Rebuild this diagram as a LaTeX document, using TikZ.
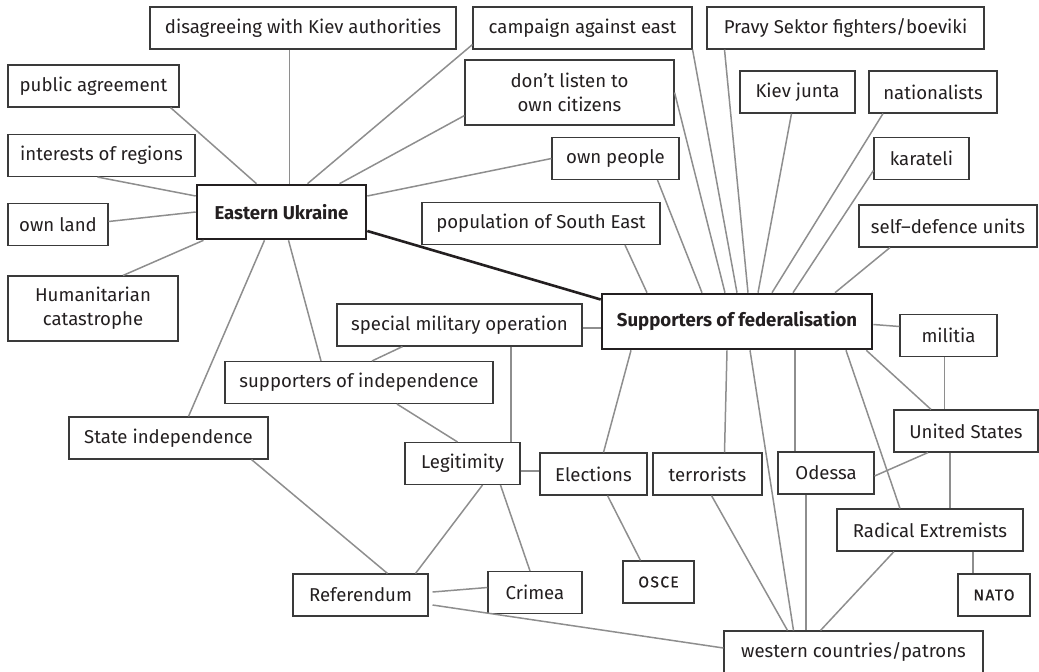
\documentclass[tikz,border=0pt]{standalone}
\usepackage{fontspec}
\setmainfont{Fira Sans}
\usepackage{tikz}
\definecolor{mapink}{HTML}{231F20}
\definecolor{mapedge}{HTML}{3A3A3A}
\definecolor{mapline}{HTML}{8E8E8E}

\tikzset{
  term/.style={draw=mapedge,line width=1.1pt,fill=white,text=mapink,minimum height=42pt,
    inner xsep=0pt,align=center,font=\fontsize{18.6}{24}\selectfont},
  hub/.style={term,draw=mapink,line width=2.6pt,minimum height=54pt,
    font=\fontsize{18.6}{24}\selectfont\bfseries},
  abbr/.style={font=\fontsize{15.5}{18}\selectfont\addfontfeature{LetterSpace=9,FakeBold=0.6}},
  link/.style={draw=mapline,line width=1.5pt},
  spine/.style={draw=mapink,line width=2.6pt},
}

\begin{document}
\begin{tikzpicture}[x=1pt,y=-1pt]
\useasboundingbox (0,0) rectangle (1039,672);

\node[term,minimum width=306pt] (dis) at (303,28) {disagreeing with Kiev authorities};
\node[term,minimum width=219pt] (camp) at (582.5,28) {campaign against east};
\node[term,minimum width=277pt] (pravy) at (845.5,28) {Pravy Sektor fighters/boeviki};
\node[term,minimum width=171pt] (pub) at (93.5,86) {public agreement};
\node[term,minimum width=209pt,minimum height=65pt] (dont) at (569.5,92.5) {don’t listen to\\own citizens};
\node[term,minimum width=115pt] (junta) at (797.5,92) {Kiev junta};
\node[term,minimum width=128pt] (nat) at (933,92) {nationalists};
\node[term,minimum width=187pt] (intr) at (101.5,155.5) {interests of regions};
\node[term,minimum width=127pt] (ownp) at (615.5,158.5) {own people};
\node[term,minimum width=95pt] (kar) at (921.5,158.5) {karateli};
\node[hub,minimum width=169pt] (eu) at (281.5,212) {Eastern Ukraine};
\node[term,minimum width=100pt] (land) at (58,224.5) {own land};
\node[term,minimum width=238pt] (popse) at (541,223.5) {population of South East};
\node[term,minimum width=178pt] (selfd) at (948,226) {self--defence units};
\node[term,minimum width=170pt,minimum height=65pt] (hum) at (93,308.5) {Humanitarian\\catastrophe};
\node[term,minimum width=245pt] (smo) at (459.5,325) {special military operation};
\node[hub,minimum width=270pt,minimum height=55pt] (sf) at (737,321.5) {Supporters of federalisation};
\node[term,minimum width=97pt] (mil) at (948.5,335.5) {militia};
\node[term,minimum width=268pt] (supind) at (359,382.5) {supporters of independence};
\node[term,minimum width=199pt] (stind) at (168.5,438) {State independence};
\node[term,minimum width=115pt] (legit) at (462.5,463.5) {Legitimity};
\node[term,minimum width=107pt] (elec) at (593.5,474) {Elections};
\node[term,minimum width=109pt] (terr) at (707.5,474) {terrorists};
\node[term,minimum width=96pt] (odessa) at (826,473) {Odessa};
\node[term,minimum width=144pt] (us) at (966,431) {United States};
\node[term,minimum width=186pt] (radx) at (930,530) {Radical Extremists};
\node[term,abbr,minimum width=71pt] (osce) at (658.5,582) {OSCE};
\node[term,abbr,minimum width=72pt] (nato) at (994,595) {NATO};
\node[term,minimum width=135pt] (refm) at (360.5,595) {Referendum};
\node[term,minimum width=94pt] (crimea) at (535,592.5) {Crimea};
\node[term,minimum width=259pt] (west) at (853.5,652) {western countries/patrons};

% Eastern Ukraine
\draw[link] ([xshift=8pt]eu.north) -- ([xshift=8pt]eu.north |- dis.south);
\draw[link] ([xshift=-25pt]eu.north) -- ([xshift=77pt]pub.south);
\draw[link] ([yshift=16pt]eu.west) -- ([xshift=-4pt]intr.south);
\draw[link] (eu.west) -- ([yshift=3pt]land.east);
\draw[link] ([xshift=-78pt]eu.south) -- ([xshift=30pt]hum.north);
\draw[link] ([xshift=-17pt]eu.south) -- ([xshift=20pt]stind.north);
\draw[link] ([xshift=7pt]eu.south) -- ([xshift=-38pt]supind.north);
\draw[link] ([xshift=26pt]eu.north) -- ([yshift=5pt]camp.south west);
\draw[link] ([xshift=58pt]eu.north) -- ([yshift=10pt]dont.south west);
\draw[link] ([yshift=16pt]eu.east) -- (ownp.west);
\draw[spine] ([yshift=-19pt]eu.east) -- ([yshift=22pt]sf.west);

% Supporters of federalisation
\draw[link] ([xshift=-90pt]sf.north) -- ([xshift=84pt]popse.south);
\draw[link] ([xshift=-35pt]sf.north) -- ([xshift=42pt]ownp.south);
\draw[link] ([xshift=-12pt]sf.north) -- (dont.east);
\draw[link] (sf.north) -- (camp.south east);
\draw[link] ([xshift=11pt]sf.north) -- ([xshift=-121pt]pravy.south);
\draw[link] ([xshift=21pt]sf.north) -- ([xshift=-6pt]junta.south);
\draw[link] ([xshift=35pt]sf.north) -- ([xshift=-50pt]nat.south);
\draw[link] ([xshift=56pt]sf.north) -- ([yshift=-12pt]kar.west);
\draw[link] ([xshift=98pt]sf.north) -- ([xshift=-58pt]selfd.south);
\draw[link] ([yshift=-3pt]sf.east) -- ([yshift=9pt]mil.west);
\draw[link] ([yshift=-3pt]smo.east) -- ([yshift=-3pt]smo.east -| sf.west);
\draw[link] ([xshift=-106pt]sf.south) -- ([xshift=10pt]elec.north);
\draw[link] ([xshift=-10pt]sf.south) -- ([xshift=17pt]terr.north);
\draw[link] ([xshift=13pt]sf.south) -- ([xshift=-60pt]west.north);
\draw[link] ([xshift=58pt]sf.south) -- ([xshift=58pt]sf.south |- odessa.north);
\draw[link] ([xshift=109pt]sf.south) -- ([xshift=-30pt]radx.north);
\draw[link] ([xshift=-7pt]sf.south east) -- ([xshift=-35pt]us.north);

% the rest
\draw[link] ([xshift=-4pt]mil.south) -- ([xshift=-4pt]mil.south |- us.north);
\draw[link] ([xshift=-38pt]us.south) -- ([yshift=-3pt]odessa.east);
\draw[link] ([xshift=-16pt]us.south) -- ([xshift=-16pt]us.south |- radx.north);
\draw[link] ([xshift=-36pt]radx.south) -- ([xshift=-33pt]west.north);
\draw[link] ([xshift=43pt]radx.south) -- ([xshift=43pt]radx.south |- nato.north);
\draw[link] ([xshift=-20pt]odessa.south) -- ([xshift=-20pt]odessa.south |- west.north);
\draw[link] ([xshift=4pt]terr.south) -- ([xshift=-66pt]west.north);
\draw[link] ([xshift=14pt]elec.south) -- ([xshift=-18pt]osce.north);
\draw[link] ([yshift=-7.5pt]legit.east) -- ([yshift=-7.5pt]legit.east -| elec.west);
\draw[link] ([xshift=51.5pt]smo.south) -- ([xshift=51.5pt]smo.south |- legit.north);
\draw[link] ([xshift=-57pt]smo.south) -- ([xshift=13pt]supind.north);
\draw[link] ([xshift=38pt]supind.south) -- ([xshift=-5pt]legit.north);
\draw[link] ([xshift=20pt]legit.south) -- ([xshift=55pt]refm.north);
\draw[link] ([xshift=38pt]legit.south) -- ([xshift=-5pt]crimea.north);
\draw[link] ([xshift=83pt]stind.south) -- ([xshift=27pt]refm.north);
\draw[link] ([xshift=4pt,yshift=3pt]refm.east) -- ([yshift=5pt]crimea.west);
\draw[link] ([xshift=4pt,yshift=-10pt]refm.east) -- ([yshift=4pt]west.west);
\end{tikzpicture}
\end{document}
